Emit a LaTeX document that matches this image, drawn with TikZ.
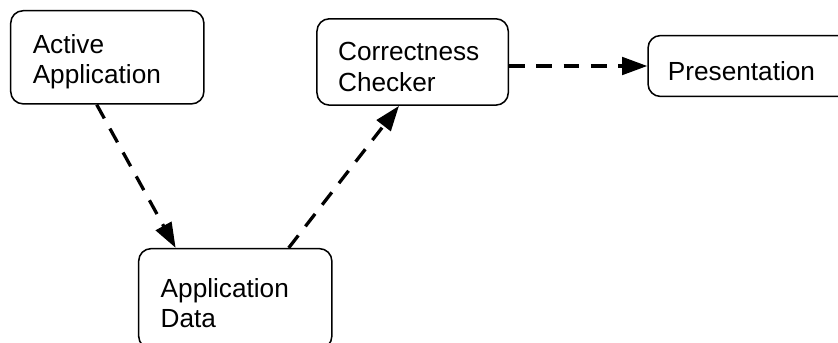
\documentclass[tikz,border=0pt]{standalone}
\usepackage{fontspec}
\setmainfont{Liberation Sans}
\usepackage{tikz}
\usetikzlibrary{arrows.meta, positioning}

\begin{document}
\begin{tikzpicture}[>={Triangle[length=11.5pt,width=8pt]},
      block/.style={draw, line width=0.7pt, rounded corners=0.2cm, anchor=north west,
                    align=left, text width=2.4cm, inner sep=0pt,
                    font=\fontsize{12pt}{13.8pt}\selectfont,
                    execute at begin node={\rule{0pt}{13pt}}},
      flow/.style={->, line width=1.5pt, dash pattern=on 7.2pt off 5.3pt}]

    % fixed frame, the lower and right boxes run past it
    \useasboundingbox (0,0) rectangle (13.49,-5.506);
    \clip (0,0) rectangle (13.49,-5.506);

    % Boxes (top-left corner, width, height)
    \node[block, minimum width=3.11cm, minimum height=1.50cm] (act) at (0.16,-0.16)
      {Active\\Application};
    \node[block, minimum width=3.08cm, minimum height=1.39cm] (chk) at (5.09,-0.29)
      {Correctness\\Checker};
    \node[block, minimum width=3.38cm, minimum height=0.98cm, text width=2.74cm] (pres) at (10.42,-0.56)
      {Presentation};
    \node[block, minimum width=3.11cm, minimum height=1.61cm] (dat) at (2.22,-3.99)
      {Application\\Data};

    % Data flow
    \draw[flow] ([xshift=-0.17cm]act.south) -- ([xshift=-0.96cm]dat.north);
    \draw[flow] ([xshift=0.86cm]dat.north) -- ([xshift=-0.22cm]chk.south);
    \draw[flow] (pres.west -| chk.east) -- (pres.west);

\end{tikzpicture}
\end{document}
